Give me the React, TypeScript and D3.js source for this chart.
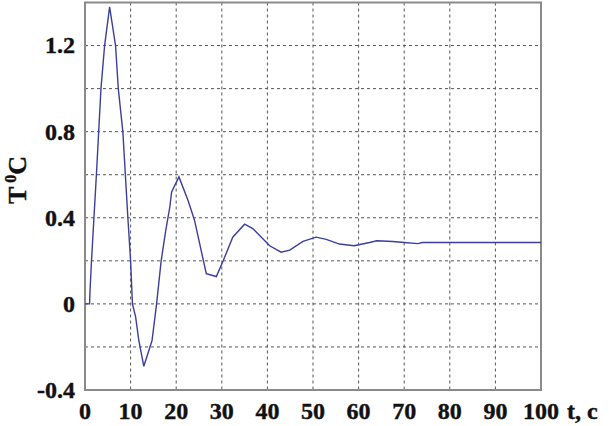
import React from "react";
import * as d3 from "d3";

const timeValues = [0, 1.0, 1.1, 1.4, 1.8, 2.5, 3.0, 3.5, 4.3, 5.4, 6.7, 7.3, 8.3, 9.4, 10.0, 10.4, 11.1, 11.8, 12.9, 14.7, 15.7, 16.7, 17.7, 18.6, 19.0, 20.6, 22.6, 24.0, 26.6, 28.8, 30.3, 32.4, 35.0, 36.8, 40.5, 43.0, 44.9, 47.8, 50.7, 52.9, 55.8, 59.0, 62.4, 64.0, 67.5, 70.0, 73.0, 74.0, 80.0, 100.0];
const tempValues = [0, 0, 0.06, 0.19, 0.34, 0.6, 0.8, 1.0, 1.2, 1.38, 1.2, 1.0, 0.8, 0.4, 0.2, 0, -0.06, -0.17, -0.29, -0.17, 0, 0.2, 0.34, 0.45, 0.52, 0.59, 0.48, 0.39, 0.14, 0.127, 0.2, 0.31, 0.37, 0.35, 0.27, 0.24, 0.25, 0.29, 0.31, 0.3, 0.278, 0.27, 0.285, 0.293, 0.29, 0.285, 0.28, 0.285, 0.285, 0.285];

const xTicks = [0, 10, 20, 30, 40, 50, 60, 70, 80, 90, 100];
const yGrid = [-0.2, 0, 0.2, 0.4, 0.6, 0.8, 1.0, 1.2];
const yLabels = [-0.4, 0, 0.4, 0.8, 1.2];
const yLabelText = ["-0.4", "0", "0.4", "0.8", "1.2"];

const W = 609, H = 426;
const L = 85, R = 541, T = 2.5, B = 390;

export default function App() {
  const x = d3.scaleLinear().domain([0, 100]).range([L, R]);
  const y = d3.scaleLinear().domain([-0.4, 1.4]).range([B, T]);
  const data = timeValues.map((t, i) => [t, tempValues[i]] as [number, number]);
  const line = d3.line<[number, number]>().x(d => x(d[0])).y(d => y(d[1])).curve(d3.curveLinear);
  const font = "'Liberation Serif', serif";
  const textStyle = { fontFamily: font, fontWeight: 700, fill: "#111", stroke: "#111", strokeWidth: 0.4 } as const;
  return (
    <svg width={W} height={H} style={{ position: "absolute", left: 0, top: 0, background: "#fff" }}>
      <rect x={0} y={0} width={W} height={H} fill="#fff" />
      {xTicks.slice(1, -1).map(t => (
        <line key={"gx" + t} x1={x(t)} x2={x(t)} y1={T} y2={B} stroke="#555" strokeWidth={1} strokeDasharray="3,3" />
      ))}
      {yGrid.map(v => (
        <line key={"gy" + v} x1={L} x2={R} y1={y(v)} y2={y(v)} stroke="#555" strokeWidth={1} strokeDasharray="3,3" />
      ))}
      <rect x={L} y={T} width={R - L} height={B - T} fill="none" stroke="#8a8a8a" strokeWidth={2} />
      <path d={line(data) || ""} fill="none" stroke="#3b3f9c" strokeWidth={1.4} />
      {xTicks.map(t => (
        <text key={"xl" + t} x={x(t)} y={419} textAnchor="middle" fontSize={24} style={textStyle}>{t}</text>
      ))}
      {yLabels.map((v, i) => (
        <text key={"yl" + v} x={75} y={y(v)} dy="0.33em" textAnchor="end" fontSize={24} style={textStyle}>{yLabelText[i]}</text>
      ))}
      <text x={567} y={419} fontSize={24} style={textStyle}>t, c</text>
      <text transform="translate(26,180) rotate(-90)" textAnchor="middle" fontSize={26} style={textStyle}>
        T<tspan dx={4} dy={-10} fontSize={16}>0</tspan><tspan dy={10}>C</tspan>
      </text>
    </svg>
  );
}
